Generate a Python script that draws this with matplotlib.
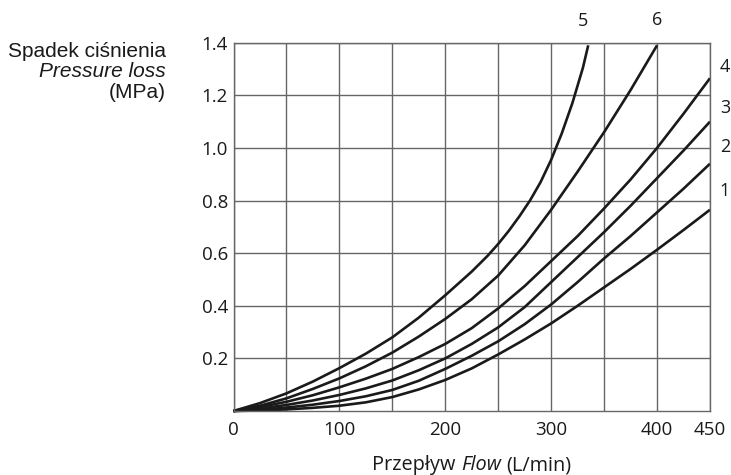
import matplotlib
matplotlib.use("Agg")
import matplotlib.pyplot as plt
from matplotlib.ticker import MultipleLocator

# flow (L/min) and pressure loss (MPa)
flow_a = [0, 25, 50, 75, 100, 125, 150, 175, 200, 225, 250, 275, 300, 325, 350, 375, 400, 425, 450]
flow_6 = [0, 25, 50, 75, 100, 125, 150, 175, 200, 225, 250, 275, 300, 325, 350, 375, 400]
flow_5 = [0, 25, 50, 75, 100, 125, 150, 175, 200, 225, 240, 250, 260, 270, 280, 290, 300, 310, 320, 330, 335]

loss_1 = [0, 0.002, 0.006, 0.012, 0.02, 0.033, 0.053, 0.082, 0.118, 0.162, 0.215, 0.272, 0.333, 0.4, 0.47, 0.54, 0.613, 0.688, 0.765]
loss_2 = [0, 0.005, 0.013, 0.024, 0.038, 0.056, 0.08, 0.115, 0.16, 0.21, 0.265, 0.33, 0.405, 0.49, 0.58, 0.665, 0.755, 0.845, 0.94]
loss_3 = [0, 0.009, 0.023, 0.04, 0.061, 0.086, 0.116, 0.155, 0.2, 0.255, 0.318, 0.395, 0.49, 0.585, 0.68, 0.78, 0.885, 0.99, 1.1]
loss_4 = [0, 0.015, 0.035, 0.06, 0.09, 0.123, 0.16, 0.205, 0.255, 0.315, 0.39, 0.475, 0.57, 0.665, 0.77, 0.88, 1.0, 1.13, 1.265]
loss_6 = [0, 0.02, 0.048, 0.084, 0.124, 0.17, 0.222, 0.283, 0.35, 0.425, 0.515, 0.63, 0.765, 0.91, 1.06, 1.22, 1.39]
loss_5 = [0, 0.03, 0.067, 0.112, 0.163, 0.218, 0.28, 0.355, 0.44, 0.53, 0.59, 0.635, 0.685, 0.74, 0.8, 0.87,
          0.955, 1.055, 1.17, 1.305, 1.39]

x_ticks = [0, 100, 200, 300, 400, 450]
y_ticks = [0.2, 0.4, 0.6, 0.8, 1.0, 1.2, 1.4]

W, H = 731, 475
fig = plt.figure(figsize=(W / 100, H / 100), dpi=100)
ax = fig.add_axes([233.5 / W, 1 - 411 / H, (710 - 233.5) / W, (411 - 42.7) / H])

num_font = ['Open Sans', 'DejaVu Sans']
grid_col = '#666666'
ink = '#1a1a1a'

ax.set_xlim(0, 450)
ax.set_ylim(0, 1.4)
ax.set_xticks(x_ticks)
ax.set_xticklabels([str(t) for t in x_ticks])
ax.set_yticks(y_ticks)
ax.set_yticklabels(['%.1f' % t for t in y_ticks])
ax.xaxis.set_minor_locator(MultipleLocator(50))
ax.grid(True, which='both', color=grid_col, linewidth=1.0)
ax.set_axisbelow(True)
ax.tick_params(which='both', length=0)
ax.tick_params(axis='y', pad=4)
ax.tick_params(axis='x', pad=7)
for lab in ax.get_xticklabels() + ax.get_yticklabels():
    lab.set_family(num_font)
    lab.set_fontsize(13.5)
    lab.set_color(ink)
for s in ax.spines.values():
    s.set_color(grid_col)
    s.set_linewidth(1.0)

# curves with their numbers
series = [(flow_a, loss_1, '1'), (flow_a, loss_2, '2'), (flow_a, loss_3, '3'),
          (flow_a, loss_4, '4'), (flow_6, loss_6, '6'), (flow_5, loss_5, '5')]
label_off = {'1': (15, 19), '2': (15, 17), '3': (15, 14), '4': (15, 11),
             '5': (-5, 24), '6': (0, 25)}
for fx, fy, name in series:
    ax.plot(fx, fy, color=ink, lw=1.9, solid_capstyle='butt', solid_joinstyle='round', clip_on=False)
    ax.annotate(name, (fx[-1], fy[-1]), xytext=label_off[name], textcoords='offset pixels',
                ha='center', va='center', fontsize=13, family=num_font,
                color=ink, annotation_clip=False)

# y axis title, three lines right aligned
ylab = [('Spadek ciśnienia', 'normal', 57.3), ('Pressure loss', 'italic', 77.3), ('(MPa)', 'normal', 98)]
for txt, st, yb in ylab:
    fig.text(166 / W, 1 - yb / H, txt, ha='right', va='baseline', fontsize=15,
             family='Liberation Sans', style=st, color=ink)

# x axis title with italic word
parts = [('Przepływ', 'normal'), ('Flow', 'italic'), ('(L/min)', 'normal')]
fig.canvas.draw()
rend = fig.canvas.get_renderer()
items = []
for txt, st in parts:
    t = fig.text(0, 1 - 470 / H, txt, ha='left', va='baseline', fontsize=14.3,
                 family=num_font, style=st, color=ink)
    items.append(t)
gap = 5
widths = [t.get_window_extent(rend).width for t in items]
total = sum(widths) + gap * (len(items) - 1)
x0 = (233.5 + 710) / 2 - total / 2
for t, w in zip(items, widths):
    t.set_x(x0 / W)
    x0 += w + gap

fig.savefig('out.png', dpi=100)
